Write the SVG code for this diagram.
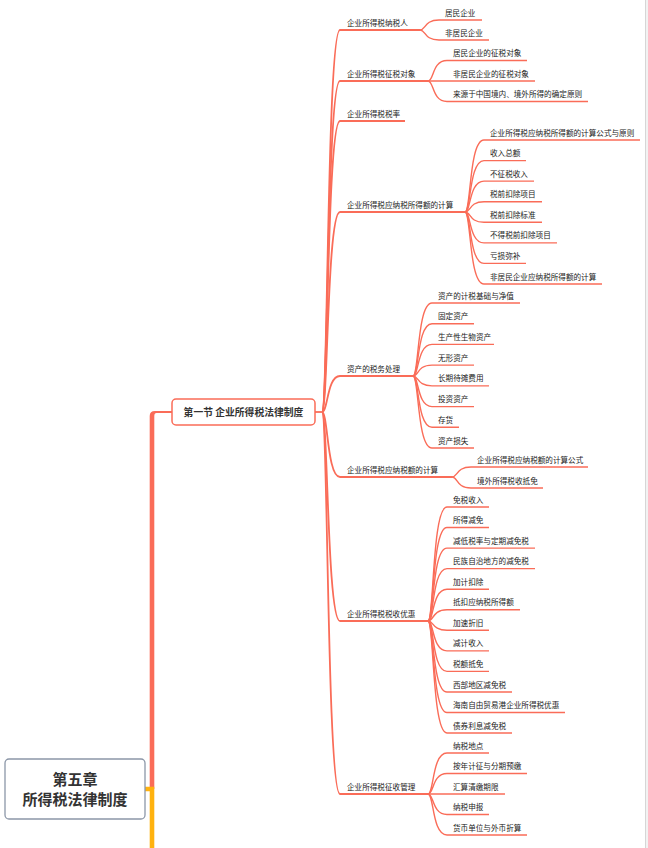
<svg xmlns="http://www.w3.org/2000/svg" width="648" height="848" viewBox="0 0 648 848">
<style>
.t{font-family:"Noto Sans CJK SC","Noto Sans",sans-serif;font-size:7.6px;fill:#222}
.b{font-family:"Noto Sans CJK SC","Noto Sans",sans-serif;font-weight:bold;fill:#333;text-anchor:middle}
.c1{fill:none;stroke:#FA6C58;stroke-width:1.8}
.c2{fill:none;stroke:#FA6C58;stroke-width:1.4}
</style>
<rect width="648" height="848" fill="#fff"/>
<rect x="645" y="0" width="3" height="848" fill="#f2f2f2"/>
<line x1="645.5" y1="0" x2="645.5" y2="848" stroke="#d6d6d6" stroke-width="1"/>
<g id="connectors">
<path d="M149.7 789 V416 Q149.7 411 155 411 H172 V413 H156.5 Q154.3 413 154.3 416 V789 Z" fill="#FA6C58"/>
<path d="M145 789 H152 V848" fill="none" stroke="#FFB20F" stroke-width="4.6"/>
<path class="c1" d="M315 412 H322"/>
<path class="c1" d="M322 412 C328 412 327 30 340 30 H420"/>
<path class="c1" d="M322 412 C328 412 327 81 340 81 H428"/>
<path class="c1" d="M322 412 C328 412 327 121 340 121 H405"/>
<path class="c1" d="M322 412 C328 412 327 212 340 212 H465"/>
<path class="c1" d="M322 412 C328 412 327 376 340 376 H413"/>
<path class="c1" d="M322 412 C328 412 327 477 340 477 H452"/>
<path class="c1" d="M322 412 C328 412 327 621 340 621 H428"/>
<path class="c1" d="M322 412 C328 412 327 794 340 794 H428"/>
<path class="c2" d="M420 30 C426 30 424 20 439 20 H482"/>
<path class="c2" d="M420 30 C426 30 424 40 439 40 H489"/>
<path class="c2" d="M428 81 C434 81 432 60.5 447 60.5 H527"/>
<path class="c2" d="M428 81 H535"/>
<path class="c2" d="M428 81 C434 81 432 101.5 447 101.5 H588"/>
<path class="c2" d="M465 212 C471 212 469 140 484 140 H640"/>
<path class="c2" d="M465 212 C471 212 469 160.6 484 160.6 H526"/>
<path class="c2" d="M465 212 C471 212 469 181.1 484 181.1 H534"/>
<path class="c2" d="M465 212 C471 212 469 201.7 484 201.7 H542"/>
<path class="c2" d="M465 212 C471 212 469 222.3 484 222.3 H542"/>
<path class="c2" d="M465 212 C471 212 469 242.9 484 242.9 H557"/>
<path class="c2" d="M465 212 C471 212 469 263.4 484 263.4 H526"/>
<path class="c2" d="M465 212 C471 212 469 284 484 284 H602"/>
<path class="c2" d="M413 376 C419 376 417 303 432 303 H520"/>
<path class="c2" d="M413 376 C419 376 417 323.7 432 323.7 H474"/>
<path class="c2" d="M413 376 C419 376 417 344.4 432 344.4 H494"/>
<path class="c2" d="M413 376 C419 376 417 365.1 432 365.1 H474"/>
<path class="c2" d="M413 376 C419 376 417 385.9 432 385.9 H489"/>
<path class="c2" d="M413 376 C419 376 417 406.6 432 406.6 H474"/>
<path class="c2" d="M413 376 C419 376 417 427.3 432 427.3 H459"/>
<path class="c2" d="M413 376 C419 376 417 448 432 448 H474"/>
<path class="c2" d="M452 477 C458 477 456 467 471 467 H588"/>
<path class="c2" d="M452 477 C458 477 456 488 471 488 H543"/>
<path class="c2" d="M428 621 C434 621 432 507 447 507 H489"/>
<path class="c2" d="M428 621 C434 621 432 527.5 447 527.5 H489"/>
<path class="c2" d="M428 621 C434 621 432 548.1 447 548.1 H535"/>
<path class="c2" d="M428 621 C434 621 432 568.6 447 568.6 H535"/>
<path class="c2" d="M428 621 C434 621 432 589.2 447 589.2 H489"/>
<path class="c2" d="M428 621 C434 621 432 609.8 447 609.8 H520"/>
<path class="c2" d="M428 621 C434 621 432 630.3 447 630.3 H489"/>
<path class="c2" d="M428 621 C434 621 432 650.9 447 650.9 H489"/>
<path class="c2" d="M428 621 C434 621 432 671.4 447 671.4 H489"/>
<path class="c2" d="M428 621 C434 621 432 692 447 692 H512"/>
<path class="c2" d="M428 621 C434 621 432 712.5 447 712.5 H565"/>
<path class="c2" d="M428 621 C434 621 432 733 447 733 H512"/>
<path class="c2" d="M428 794 C434 794 432 753 447 753 H489"/>
<path class="c2" d="M428 794 C434 794 432 773.5 447 773.5 H527"/>
<path class="c2" d="M428 794 H505"/>
<path class="c2" d="M428 794 C434 794 432 814.5 447 814.5 H489"/>
<path class="c2" d="M428 794 C434 794 432 835 447 835 H527"/>
</g>
<g id="root">
<rect x="5" y="759" width="140" height="60" rx="4" fill="#fff" stroke="#8c97a8" stroke-width="1.3"/>
<text class="b" x="75" y="784.5" font-size="15">第五章</text>
<text class="b" x="75" y="804.5" font-size="15">所得税法律制度</text>
</g>
<g id="section1">
<rect x="172" y="399" width="143" height="26" rx="4" fill="#fff" stroke="#FA6C58" stroke-width="1.5"/>
<text class="b" x="243.5" y="415.8" font-size="9.8">第一节 企业所得税法律制度</text>
</g>
<g id="n1"><text class="t" x="347" y="25.5">企业所得税纳税人</text></g>
<g id="n1a"><text class="t" x="445" y="15.5">居民企业</text></g>
<g id="n1b"><text class="t" x="445" y="35.5">非居民企业</text></g>
<g id="n2"><text class="t" x="347" y="76.5">企业所得税征税对象</text></g>
<g id="n2a"><text class="t" x="453" y="56">居民企业的征税对象</text></g>
<g id="n2b"><text class="t" x="453" y="76.5">非居民企业的征税对象</text></g>
<g id="n2c"><text class="t" x="453" y="97">来源于中国境内、境外所得的确定原则</text></g>
<g id="n3"><text class="t" x="347" y="116.5">企业所得税税率</text></g>
<g id="n4"><text class="t" x="347" y="207.5">企业所得税应纳税所得额的计算</text></g>
<g id="n4a"><text class="t" x="490" y="135.5">企业所得税应纳税所得额的计算公式与原则</text></g>
<g id="n4b"><text class="t" x="490" y="156.1">收入总额</text></g>
<g id="n4c"><text class="t" x="490" y="176.6">不征税收入</text></g>
<g id="n4d"><text class="t" x="490" y="197.2">税前扣除项目</text></g>
<g id="n4e"><text class="t" x="490" y="217.8">税前扣除标准</text></g>
<g id="n4f"><text class="t" x="490" y="238.4">不得税前扣除项目</text></g>
<g id="n4g"><text class="t" x="490" y="258.9">亏损弥补</text></g>
<g id="n4h"><text class="t" x="490" y="279.5">非居民企业应纳税所得额的计算</text></g>
<g id="n5"><text class="t" x="347" y="371.5">资产的税务处理</text></g>
<g id="n5a"><text class="t" x="438" y="298.5">资产的计税基础与净值</text></g>
<g id="n5b"><text class="t" x="438" y="319.2">固定资产</text></g>
<g id="n5c"><text class="t" x="438" y="339.9">生产性生物资产</text></g>
<g id="n5d"><text class="t" x="438" y="360.6">无形资产</text></g>
<g id="n5e"><text class="t" x="438" y="381.4">长期待摊费用</text></g>
<g id="n5f"><text class="t" x="438" y="402.1">投资资产</text></g>
<g id="n5g"><text class="t" x="438" y="422.8">存货</text></g>
<g id="n5h"><text class="t" x="438" y="443.5">资产损失</text></g>
<g id="n6"><text class="t" x="347" y="472.5">企业所得税应纳税额的计算</text></g>
<g id="n6a"><text class="t" x="477" y="462.5">企业所得税应纳税额的计算公式</text></g>
<g id="n6b"><text class="t" x="477" y="483.5">境外所得税收抵免</text></g>
<g id="n7"><text class="t" x="347" y="616.5">企业所得税税收优惠</text></g>
<g id="n7a"><text class="t" x="453" y="502.5">免税收入</text></g>
<g id="n7b"><text class="t" x="453" y="523">所得减免</text></g>
<g id="n7c"><text class="t" x="453" y="543.6">减低税率与定期减免税</text></g>
<g id="n7d"><text class="t" x="453" y="564.1">民族自治地方的减免税</text></g>
<g id="n7e"><text class="t" x="453" y="584.7">加计扣除</text></g>
<g id="n7f"><text class="t" x="453" y="605.3">抵扣应纳税所得额</text></g>
<g id="n7g"><text class="t" x="453" y="625.8">加速折旧</text></g>
<g id="n7h"><text class="t" x="453" y="646.4">减计收入</text></g>
<g id="n7i"><text class="t" x="453" y="666.9">税额抵免</text></g>
<g id="n7j"><text class="t" x="453" y="687.5">西部地区减免税</text></g>
<g id="n7k"><text class="t" x="453" y="708">海南自由贸易港企业所得税优惠</text></g>
<g id="n7l"><text class="t" x="453" y="728.5">债券利息减免税</text></g>
<g id="n8"><text class="t" x="347" y="789.5">企业所得税征收管理</text></g>
<g id="n8a"><text class="t" x="453" y="748.5">纳税地点</text></g>
<g id="n8b"><text class="t" x="453" y="769">按年计征与分期预缴</text></g>
<g id="n8c"><text class="t" x="453" y="789.5">汇算清缴期限</text></g>
<g id="n8d"><text class="t" x="453" y="810">纳税申报</text></g>
<g id="n8e"><text class="t" x="453" y="830.5">货币单位与外币折算</text></g>
</svg>
